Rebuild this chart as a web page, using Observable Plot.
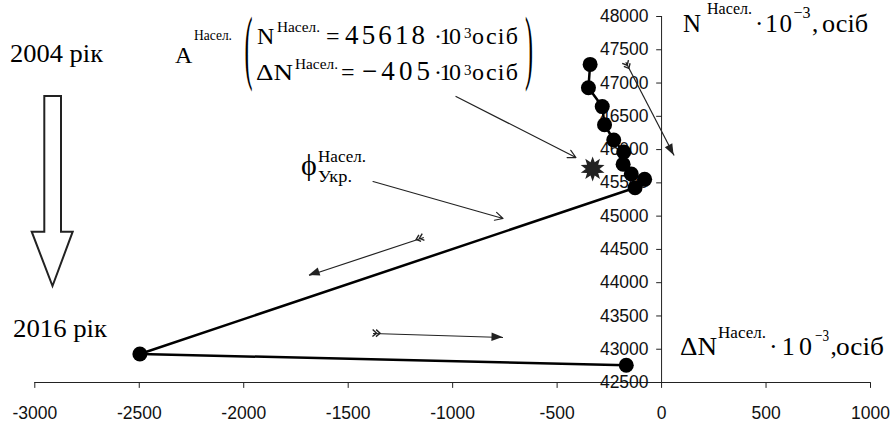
<!DOCTYPE html>
<html><head><meta charset="utf-8">
<script src="https://cdn.jsdelivr.net/npm/d3@7"></script>
<script src="https://cdn.jsdelivr.net/npm/@observablehq/plot@0.6"></script>
<style>
html,body{margin:0;padding:0;background:#fff;}
#chart{width:893px;height:426px;overflow:hidden;}
#chart svg{display:block;}
</style></head><body><div id="chart"></div>
<script>
// ---- data ----
const popChange = [-342, -350, -284, -273, -229, -181, -184, -145, -81, -127, -2497, -169];   // ΔN, thousand persons
const population = [47280, 46930, 46646, 46373, 46144, 45963, 45779, 45634, 45553, 45426, 42929, 42760]; // N, thousand persons
const markerX = [-330];     // star marker (attractor A) as drawn
const markerY = [45710];
const xTicks = [-3000, -2500, -2000, -1500, -1000, -500, 0, 500, 1000];
const yTicks = [42500, 43000, 43500, 44000, 44500, 45000, 45500, 46000, 46500, 47000, 47500, 48000];

// annotation arrows (data coordinates)
const openArrowsX1 = [-984, -1381], openArrowsY1 = [46798, 45520];
const openArrowsX2 = [-410, -759],  openArrowsY2 = [45881, 44965];
const featherX1 = [-1138, -1381, -171], featherY1 = [44679, 43236, 47313];
const featherX2 = [-1687, -759, 60],    featherY2 = [44108, 43176, 45911];

const serif = "'Liberation Serif','Times New Roman',serif";
const sans = "'Liberation Sans',Arial,sans-serif";

const points = popChange.map((d, i) => ({dN: d, N: population[i]}));
const star = markerX.map((d, i) => ({dN: d, N: markerY[i]}));
const openArrows = openArrowsX1.map((d, i) => ({x1: d, y1: openArrowsY1[i], x2: openArrowsX2[i], y2: openArrowsY2[i]}));
const featherArrows = featherX1.map((d, i) => ({x1: d, y1: featherY1[i], x2: featherX2[i], y2: featherY2[i]}));

const tickShape = {draw(context, l) { context.moveTo(0, 0); context.lineTo(0, -l); }};
const starSymbol = {
  draw(context, size) {
    const R = Math.sqrt(size / Math.PI), r = R * 0.55, n = 10;
    for (let i = 0; i < 2 * n; i++) {
      const a = (i * Math.PI) / n - Math.PI / 2;
      const rr = i % 2 === 0 ? R : r;
      const x = rr * Math.cos(a), y = rr * Math.sin(a);
      if (i === 0) context.moveTo(x, y); else context.lineTo(x, y);
    }
    context.closePath();
  }
};

const plot = Plot.plot({
  width: 893, height: 426,
  marginLeft: 34.3, marginRight: 23, marginTop: 16, marginBottom: 44,
  x: {domain: [-3000, 1000], axis: null},
  y: {domain: [42500, 48000], axis: null},
  style: {background: "#fff", color: "#000", overflow: "visible"},
  marks: [
    Plot.ruleY([42500], {stroke: "#222", strokeWidth: 1}),
    Plot.ruleX([0], {stroke: "#222", strokeWidth: 1}),
    Plot.vector(xTicks, {x: d => d, frameAnchor: "bottom", length: 5, rotate: 180, anchor: "start", shape: tickShape, stroke: "#222", strokeWidth: 1}),
    Plot.vector(yTicks, {x: () => 0, y: d => d, length: 5, rotate: -90, anchor: "start", shape: tickShape, stroke: "#222", strokeWidth: 1}),
    Plot.text(xTicks, {x: d => d, frameAnchor: "bottom", text: d => String(d), lineAnchor: "bottom", dy: 36, fontSize: 17.5, fontFamily: sans, fill: "#111"}),
    Plot.text(yTicks, {x: () => 0, y: d => d, text: d => String(d), textAnchor: "end", dx: -13, fontSize: 17.5, fontFamily: sans, fill: "#111"}),
    Plot.arrow(openArrows, {x1: "x1", y1: "y1", x2: "x2", y2: "y2", stroke: "#222", strokeWidth: 1.2, headLength: 11, headAngle: 55}),
    Plot.link(featherArrows, {x1: "x1", y1: "y1", x2: "x2", y2: "y2", stroke: "#222", strokeWidth: 1.2}),
    Plot.line(points, {x: "dN", y: "N", stroke: "#000", strokeWidth: 2.5}),
    Plot.dot(points, {x: "dN", y: "N", r: 7.5, fill: "#000", stroke: "none"}),
    Plot.dot(star, {x: "dN", y: "N", r: 12.5, symbol: starSymbol, fill: "#222", stroke: "none"})
  ]
});
document.getElementById("chart").appendChild(plot);

// ---- annotations ----
const sx = plot.scale("x"), sy = plot.scale("y");
const svg = d3.select(plot);
const g = svg.append("g").attr("class", "annotations").attr("text-anchor", "start");

// filled heads and feathered tails of the arrows
for (const a of featherArrows) {
  const p1 = [sx.apply(a.x1), sy.apply(a.y1)], p2 = [sx.apply(a.x2), sy.apply(a.y2)];
  const dx = p2[0] - p1[0], dy = p2[1] - p1[1], L = Math.hypot(dx, dy);
  const u = [dx / L, dy / L], n = [-u[1], u[0]];
  const hl = 11, hw = 4.2;
  const b = [p2[0] - hl * u[0], p2[1] - hl * u[1]];
  g.append("path")
    .attr("d", `M${p2[0]},${p2[1]}L${b[0] + hw * n[0]},${b[1] + hw * n[1]}L${b[0] - hw * n[0]},${b[1] - hw * n[1]}Z`)
    .attr("fill", "#222");
  for (const k of [0, 3.5]) {
    const tip = [p1[0] + (k + 4) * u[0], p1[1] + (k + 4) * u[1]];
    const base = [p1[0] + k * u[0], p1[1] + k * u[1]];
    g.append("path")
      .attr("d", `M${base[0] + 3.5 * n[0]},${base[1] + 3.5 * n[1]}L${tip[0]},${tip[1]}L${base[0] - 3.5 * n[0]},${base[1] - 3.5 * n[1]}`)
      .attr("fill", "none").attr("stroke", "#222").attr("stroke-width", 1.4);
  }
}

// big hollow arrow
g.append("path")
  .attr("d", "M44.3,96L61,96L61,231.7L72.7,231.7L52.5,286L31.7,231.7L44.3,231.7Z")
  .attr("fill", "#fff").attr("stroke", "#222").attr("stroke-width", 2).attr("stroke-linejoin", "miter");

function addText(pieces) {
  const t = g.append("text").attr("font-family", serif).attr("fill", "#000").attr("text-anchor", "start");
  for (const p of pieces) {
    const s = t.append("tspan").attr("x", p.x).attr("y", p.y).attr("font-size", p.size).attr("text-anchor", "start").text(p.t);
    if (p.len) s.attr("textLength", p.len).attr("lengthAdjust", p.adj || "spacingAndGlyphs");
  }
  return t;
}
function addParen(ch, x) {
  g.append("text").attr("font-family", serif).attr("font-size", 24).attr("fill", "#000").attr("text-anchor", "start")
    .attr("transform", `translate(${x},74.3) scale(1,3.4)`).text(ch);
}

addText([{t: "2004 рік", x: 10, y: 61.7, size: 25, len: 93}]);
addText([{t: "2016 рік", x: 13, y: 336.7, size: 25, len: 94}]);

addText([{t: "A", x: 175, y: 62.5, size: 24}, {t: "Насел.", x: 194, y: 40, size: 14, len: 38}]);
addParen("(", 244.5);
addParen(")", 525);
addText([
  {t: "N", x: 257, y: 44.3, size: 24},
  {t: "Насел.", x: 277, y: 32, size: 15, len: 43},
  {t: "=", x: 326, y: 44.3, size: 24},
  {t: "45618", x: 345, y: 44.3, size: 27, len: 80, adj: "spacing"},
  {t: "·10", x: 434, y: 44.3, size: 24, len: 27, adj: "spacing"},
  {t: "3", x: 464, y: 38, size: 15},
  {t: "осіб", x: 472, y: 44.3, size: 24, len: 46, adj: "spacing"}
]);
addText([
  {t: "ΔN", x: 256, y: 80, size: 24, len: 37},
  {t: "Насел.", x: 295, y: 69, size: 15, len: 43},
  {t: "=", x: 341, y: 80, size: 24},
  {t: "−405", x: 362, y: 80, size: 27, len: 68, adj: "spacing"},
  {t: "·10", x: 434, y: 80, size: 24, len: 27, adj: "spacing"},
  {t: "3", x: 464, y: 74.5, size: 15},
  {t: "осіб", x: 472, y: 80, size: 24, len: 46, adj: "spacing"}
]);

addText([
  {t: "ϕ", x: 301, y: 175, size: 30},
  {t: "Насел.", x: 318, y: 161.5, size: 17, len: 48},
  {t: "Укр.", x: 318, y: 181.5, size: 17, len: 34}
]);

addText([
  {t: "N", x: 683, y: 31.7, size: 25},
  {t: "Насел.", x: 707, y: 13.5, size: 16, len: 45},
  {t: "·10", x: 755, y: 31.7, size: 25, len: 37, adj: "spacing"},
  {t: "−3", x: 793.5, y: 18, size: 16},
  {t: ",", x: 812, y: 31.7, size: 25},
  {t: "осіб", x: 822, y: 31.7, size: 25, len: 46}
]);
addText([
  {t: "ΔN", x: 680, y: 355, size: 25, len: 37},
  {t: "Насел.", x: 718, y: 338, size: 16, len: 48},
  {t: "·10", x: 769, y: 355, size: 26, len: 43, adj: "spacing"},
  {t: "−3", x: 815, y: 341, size: 16, len: 14},
  {t: ",", x: 830.5, y: 355, size: 25},
  {t: "осіб", x: 836, y: 355, size: 25, len: 48}
]);
</script></body></html>
